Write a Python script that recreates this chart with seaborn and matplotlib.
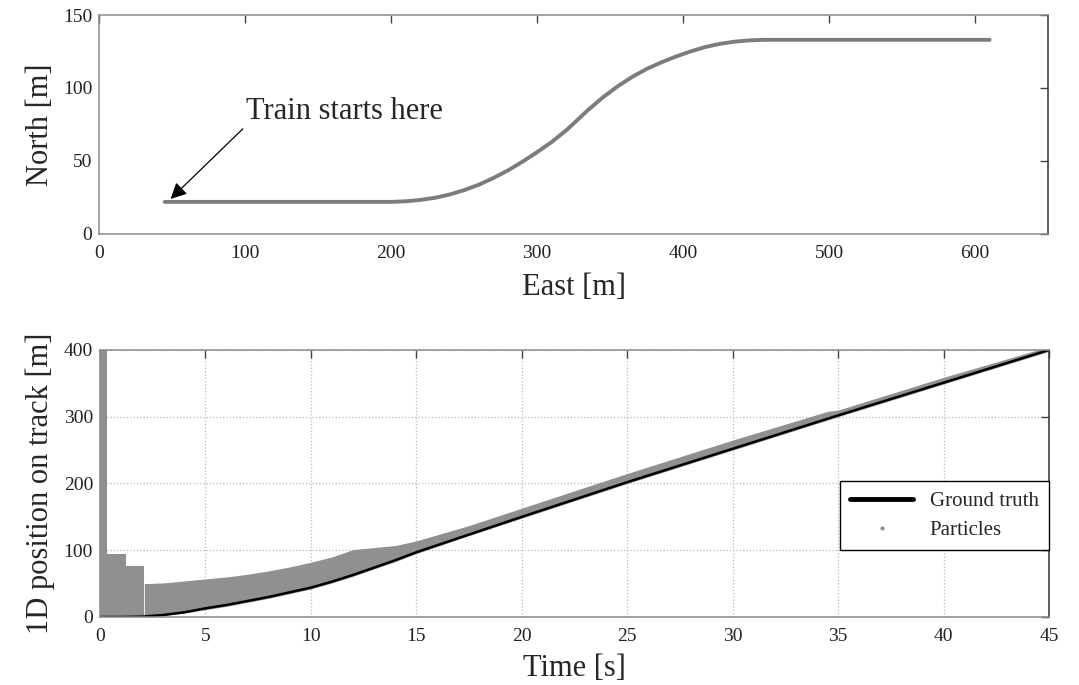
"""
Train track map + 1D particle filter position along the track.
Two panels: track geometry (top), particles vs ground truth (bottom).
"""

import matplotlib
matplotlib.use('Agg')
import matplotlib.pyplot as plt
import seaborn as sns
from matplotlib.lines import Line2D

# ---- top panel: track geometry [m] ----
track_east = [45, 200, 210, 220, 230, 240, 250, 260, 270, 280, 290, 300, 310,
              320, 327, 335, 345, 355, 365, 375, 385, 395, 405, 415, 425,
              435, 445, 455, 610]
track_north = [22, 22, 22.4, 23.3, 24.8, 27, 30, 33.7, 38.3, 43.5, 49.5, 56,
               63, 71, 77.5, 85, 93.5, 101, 107.5, 113, 117.5, 121.5, 125,
               128, 130.2, 131.7, 132.6, 133, 133]
east_ticks = [0, 100, 200, 300, 400, 500, 600]
north_ticks = [0, 50, 100, 150]

# ---- bottom panel: ground truth 1D position ----
truth_time = [0, 1, 2, 3, 4, 5, 6, 7, 8, 9, 10, 11, 12, 13, 14, 15,
              20, 25, 30, 35, 40, 45]
truth_pos = [0, 0, 0.5, 3, 7, 13, 18, 24, 30, 37, 44, 53, 63, 74, 85, 97,
             150, 202, 252, 302, 351, 400]

# particle cloud, early resampling blocks (step-like)
block_time = [0.0, 0.35, 1.25, 2.1]
block_upper = [400, 95, 77, 77]

# particle cloud envelope afterwards
cloud_time = [2.1, 3, 4, 5, 6, 7, 8, 9, 10, 11, 12, 13, 14, 15,
              17.5, 20, 25, 30, 34.5, 35, 40, 45]
cloud_lower = [0, 2, 6, 11, 16, 22, 28, 35, 42, 51, 61, 72, 83, 95,
               122, 148, 200, 250, 295, 300, 349, 398]
cloud_upper = [50, 51, 54, 57, 60, 64, 69, 75, 82, 90, 101, 104, 107, 114,
               137, 163, 215, 265, 308, 310, 359, 405]

time_ticks = [0, 5, 10, 15, 20, 25, 30, 35, 40, 45]
pos_ticks = [0, 100, 200, 300, 400]

TRACK_GRAY = '#7c7c7c'
PARTICLE_GRAY = '#909090'

sns.set_theme(style='white')
plt.rcParams['font.family'] = ['Liberation Serif', 'DejaVu Serif']


def style_axes(ax):
    """MATLAB-like box with inward ticks"""
    for name, sp in ax.spines.items():
        sp.set_visible(True)
        sp.set_linewidth(1.1)
        sp.set_color('#8a8a8a' if name != 'right' else '#333333')
    ax.tick_params(direction='in', length=6, width=1.0, color='#444444',
                   top=True, right=True, labelsize=14, labelcolor='#222222')
    ax.tick_params(axis='x', pad=8)
    ax.tick_params(axis='y', pad=5)


fig = plt.figure(figsize=(10.79, 6.85), dpi=100)

# 1. track map
ax1 = fig.add_axes([0.0918, 0.6584, 0.8795, 0.3197])
sns.lineplot(x=track_east, y=track_north, ax=ax1, color=TRACK_GRAY,
             lw=2.8, estimator=None, sort=False)
ax1.set_xlim(0, 650)
ax1.set_ylim(0, 150)
ax1.set_xticks(east_ticks)
ax1.set_yticks(north_ticks)
ax1.set_xlabel('East [m]', fontsize=22)
ax1.set_ylabel('North [m]', fontsize=22)
ax1.xaxis.set_label_coords(0.5, -0.18)
ax1.yaxis.set_label_coords(-0.046, 0.5)
ax1.annotate('Train starts here', xy=(track_east[0] + 4, track_north[0] + 2),
             xytext=(100.7, 79), fontsize=22, ha='left', va='baseline',
             arrowprops=dict(arrowstyle='-|>', color='black', lw=0.9,
                             mutation_scale=24, relpos=(0, 0),
                             shrinkA=0, shrinkB=0))
style_axes(ax1)

# 2. particles vs ground truth
ax2 = fig.add_axes([0.0927, 0.0993, 0.8795, 0.3898])
ax2.set_axisbelow(True)
ax2.grid(True, linestyle=':', color='#b8b8b8', lw=0.9)
ax2.fill_between(block_time, 0, block_upper, step='post',
                 color=PARTICLE_GRAY, lw=0)
ax2.fill_between(cloud_time, cloud_lower, cloud_upper,
                 color=PARTICLE_GRAY, lw=0)
sns.lineplot(x=truth_time, y=truth_pos, ax=ax2, color='black', lw=1.8,
             estimator=None, sort=False)
ax2.set_xlim(0, 45)
ax2.set_ylim(0, 400)
ax2.set_xticks(time_ticks)
ax2.set_yticks(pos_ticks)
ax2.set_xlabel('Time [s]', fontsize=22)
ax2.set_ylabel('1D position on track [m]', fontsize=22)
ax2.xaxis.set_label_coords(0.5, -0.14)
ax2.yaxis.set_label_coords(-0.047, 0.5)
style_axes(ax2)

handles = [Line2D([], [], color='black', lw=3.5),
           Line2D([], [], ls='none', marker='.', ms=4, color=PARTICLE_GRAY)]
leg = ax2.legend(handles, ['Ground truth', 'Particles'], loc='lower right',
                 bbox_to_anchor=(1.0, 0.25), borderaxespad=0, fontsize=15,
                 frameon=True, fancybox=False, framealpha=1,
                 handlelength=3.0, handletextpad=0.8, borderpad=0.5,
                 labelspacing=0.45)
leg.get_frame().set_edgecolor('black')
leg.get_frame().set_linewidth(1.0)

plt.savefig('out.png', dpi=100)
plt.close()
